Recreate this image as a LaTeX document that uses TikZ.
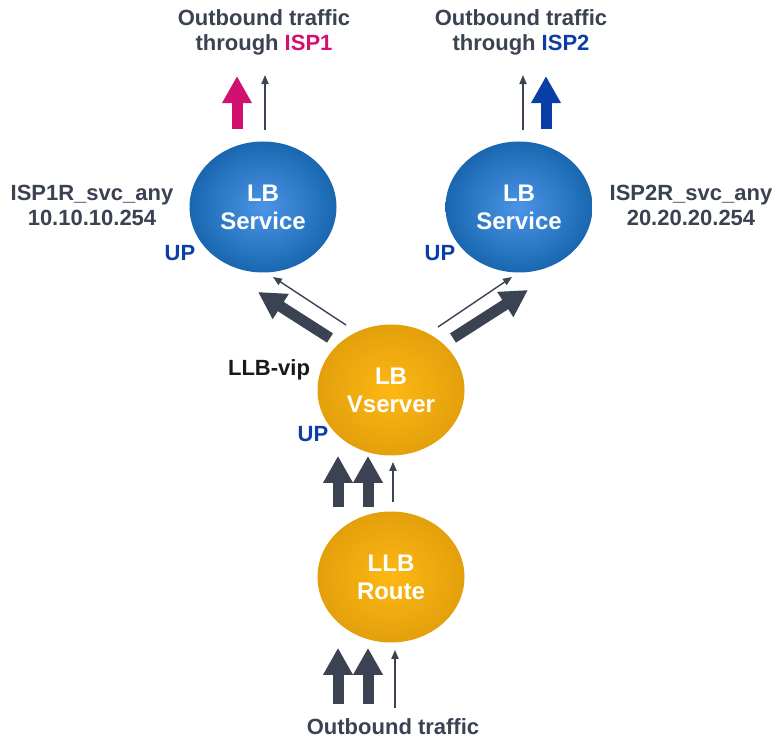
\documentclass[tikz,border=0pt]{standalone}
\usepackage{fontspec}
\setmainfont{Liberation Sans}
\usetikzlibrary{shapes.geometric,arrows.meta,calc}
\definecolor{ink}{HTML}{3B4252}
\definecolor{isp1}{HTML}{D1106F}
\definecolor{isp2}{HTML}{0A3EA6}
\definecolor{upc}{HTML}{0B3FA8}
\definecolor{svin}{HTML}{4A95E6}
\definecolor{svout}{HTML}{1967B0}
\definecolor{vsin}{HTML}{FDB813}
\definecolor{vsout}{HTML}{E3A00B}

\begin{document}
\begin{tikzpicture}[
  x=0.5pt,y=-0.5pt,
  font=\bfseries\fontsize{11}{12.5}\selectfont,
  blob/.style={ellipse,minimum width=73.5pt,minimum height=65.5pt,
               align=center,text=white,inner sep=1pt,
               font=\bfseries\fontsize{12}{14}\selectfont},
  svc/.style={blob,inner color=svin,outer color=svout},
  vsv/.style={blob,inner color=vsin,outer color=vsout},
  lbl/.style={align=center,text=ink,inner sep=1pt},
  up/.style={text=upc,inner sep=1pt},
  fat/.style={-{Triangle[length=13.5pt,width=14pt]},line width=5.5pt,ink},
  thin/.style={-{Triangle[length=4.5pt,width=3.6pt]},line width=0.7pt,ink},
]
\useasboundingbox[fill=white] (0,0) rectangle (778,738);

% ------------------------------------------------------------------ nodes
\node[svc] (s1) at (263,207) {LB\\Service};
\node[svc] (s2) at (519,207) {LB\\Service};
\node[vsv] (vs) at (391,390) {LB\\Vserver};
\node[vsv] (rt) at (391,577) {LLB\\Route};

\node[lbl] (o1) at (264,32) {Outbound traffic\\through \textcolor{isp1}{ISP1}};
\node[lbl] (o2) at (521,32) {Outbound traffic\\through \textcolor{isp2}{ISP2}};
\node[lbl] (o3) at (393,727) {Outbound traffic};

\node[lbl] (n1) at (92,205) {ISP1R\_svc\_any\\10.10.10.254};
\node[lbl] (n2) at (691,205) {ISP2R\_svc\_any\\20.20.20.254};
\node[lbl,text=black!90] (vip) at (269,370) {LLB-vip};

\node[up] (u1) at (180,253) {UP};
\node[up] (u2) at (440,253) {UP};
\node[up] (u3) at (313,434) {UP};

% ------------------------------------------------------------- traffic in
\foreach \dx in {-53,-23} \draw[fat] ($(rt.south)+(\dx,61)$) -- ($(rt.south)+(\dx,5)$);
\draw[thin] ($(rt.south)+(4,65)$) -- ($(rt.south)+(4,7)$);

% route -> vserver
\foreach \dx in {-53,-23} \draw[fat] ($(rt.north)+(\dx,-4)$) -- ($(vs.south)+(\dx,0)$);
\draw[thin] ($(rt.north)+(2,-9)$) -- ($(vs.south)+(2,6)$);

% vserver -> services
\draw[fat]  ($(vs)+(-61,-52)$) -- ($(s1)+(-5,85)$);
\draw[thin] ($(vs)+(-45,-65)$) -- ($(s1)+(10,70)$);
\draw[fat]  ($(vs)+(62,-52)$) -- ($(s2)+(9,83)$);
\draw[thin] ($(vs)+(47,-63)$) -- ($(s2)+(-7,70)$);

% services -> ISPs
\draw[fat,isp1] ($(s1.north)+(-26,-12)$) -- ++(0,-53);
\draw[thin]     ($(s1.north)+(2,-11)$) -- ++(0,-55);
\draw[thin]     ($(s2.north)+(4,-11)$) -- ++(0,-55);
\draw[fat,isp2] ($(s2.north)+(27,-12)$) -- ++(0,-53);

\end{tikzpicture}
\end{document}
